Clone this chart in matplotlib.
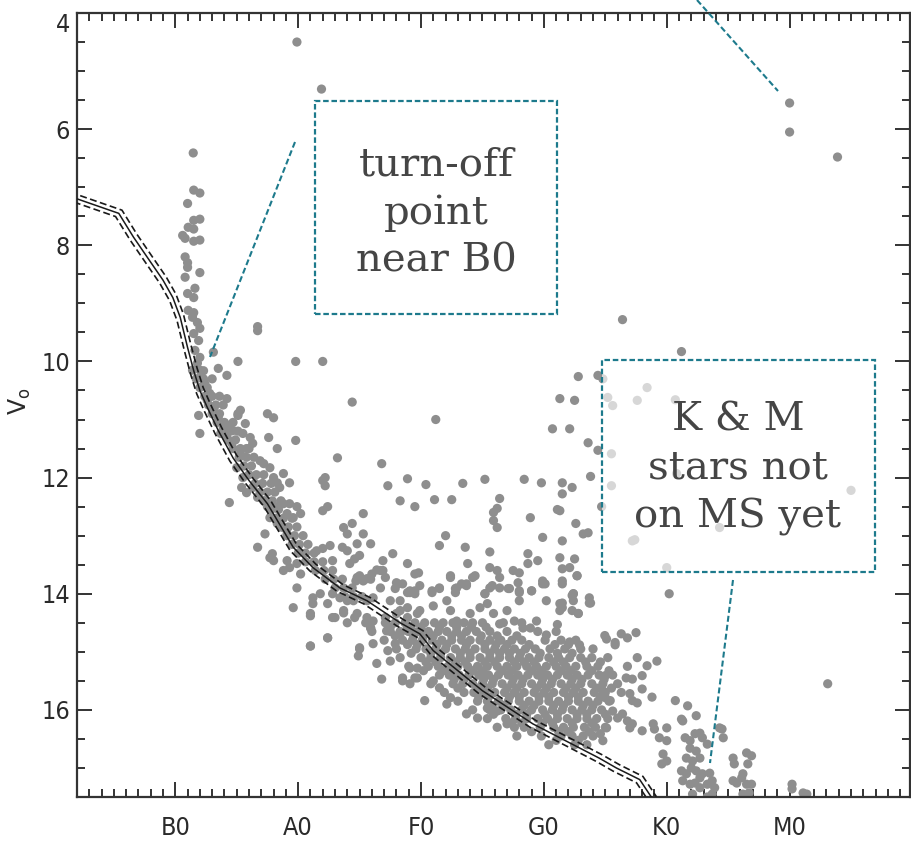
import matplotlib
matplotlib.use("Agg")
import matplotlib.pyplot as plt
from matplotlib import font_manager
from matplotlib.font_manager import FontProperties
from matplotlib.ticker import MultipleLocator, FixedLocator, FixedFormatter
import matplotlib.transforms as mtransforms
from matplotlib.patches import Rectangle
from matplotlib.lines import Line2D

# ---------------- data (spectral index: O0=0, B0=10, A0=20, F0=30, G0=40, K0=50, M0=60) -------------
tick_pos = [10, 20, 30, 40, 50, 60]
tick_labels = ["B0", "A0", "F0", "G0", "K0", "M0"]
v_ticks = [4, 6, 8, 10, 12, 14, 16]

# main-sequence (ZAMS) curve
ms_spt = [2.0, 5.4, 6.6, 7.7, 9.0, 9.8, 10.4, 11.0, 11.5, 12.0, 12.6, 13.5, 14.7, 16.0, 17.5, 19.6,
          21.2, 23.4, 25.6, 28.3, 29.9, 31.0, 35.0, 39.1, 44.5, 45.9, 47.8, 48.9]
ms_v = [7.2, 7.45, 7.86, 8.2, 8.6, 8.9, 9.24, 9.76, 10.16, 10.5, 10.79, 11.19, 11.66, 12.05, 12.45, 13.2,
        13.55, 13.9, 14.12, 14.5, 14.69, 14.98, 15.67, 16.24, 16.83, 17.0, 17.2, 17.55]

# isolated bright / outlying stars
out_spt = [19.9, 21.9, 60.0, 60.0, 63.9, 11.46, 16.7, 16.7, 19.8, 22.0, 15.1, 24.4, 31.2, 23.2, 26.8,
           65.0, 63.1, 46.4, 51.2]
out_v = [4.5, 5.31, 5.55, 6.05, 6.48, 6.41, 9.47, 9.40, 10.0, 10.0, 10.0, 10.7, 11.0, 11.66, 11.76,
         12.22, 15.55, 9.28, 9.83]

# upper main sequence / turn-off column
top_spt = [11.5, 12.0, 11.0, 11.5, 12.0, 11.05, 11.5, 10.6, 10.8, 11.5, 12.0, 10.8, 11.0, 11.0, 10.8,
           12.0, 11.0, 11.5, 11.6, 11.05, 11.5, 11.4, 11.8, 12.0, 11.5, 11.9, 11.6, 12.0, 11.8, 12.3,
           12.0, 13.1, 13.5, 14.2, 12.4, 12.8, 12.6, 13.1, 13.5, 14.2, 15.3, 15.1, 15.7, 17.5, 18.0,
           11.9, 13.9, 14.4, 12.0, 15.1]
top_v = [7.05, 7.1, 7.28, 7.57, 7.55, 7.69, 7.72, 7.83, 7.88, 7.93, 7.91, 8.2, 8.3, 8.38, 8.55,
         8.47, 8.83, 8.9, 8.74, 9.12, 9.16, 9.24, 9.33, 9.43, 9.52, 9.64, 9.81, 9.93, 10.03, 10.16,
         10.28, 9.84, 10.12, 10.24, 10.38, 10.55, 10.67, 10.84, 10.97, 10.64, 10.84, 10.93, 11.07, 10.9, 10.97,
         10.93, 11.14, 11.1, 11.24, 10.9]

# B-A band just above the ZAMS
band_spt = [11.4, 12.0, 11.7, 12.3, 13.0, 12.0, 12.6, 12.4, 13.0, 13.6, 12.7, 13.3, 13.9, 13.0, 13.6,
            13.4, 14.0, 14.7, 13.9, 14.5, 15.1, 14.3, 14.9, 14.7, 15.3, 16.0, 15.2, 15.8, 16.4,
            15.6, 16.2, 16.0, 16.6, 17.2, 16.5, 17.1, 17.8, 16.9, 17.5, 18.1, 17.3, 17.9, 18.6,
            17.8, 18.4, 18.2, 18.8, 19.5, 18.6, 19.2, 19.9, 19.1, 19.7, 20.4, 19.5, 20.1, 20.8,
            20.0, 20.6, 21.3, 20.6, 21.3, 22.0, 21.4, 22.1, 22.8, 22.2, 22.9, 23.6, 23.0, 23.7, 24.4,
            23.8, 24.5, 25.2]
band_v = [10.15, 10.15, 10.3, 10.3, 10.3, 10.45, 10.45, 10.6, 10.6, 10.6, 10.75, 10.75, 10.75, 10.9, 10.9,
          11.05, 11.05, 11.05, 11.2, 11.2, 11.2, 11.35, 11.35, 11.5, 11.5, 11.5, 11.65, 11.65, 11.65,
          11.8, 11.8, 11.95, 11.95, 11.95, 12.1, 12.1, 12.1, 12.25, 12.25, 12.25, 12.4, 12.4, 12.4,
          12.55, 12.55, 12.7, 12.7, 12.7, 12.85, 12.85, 12.85, 13.0, 13.0, 13.0, 13.15, 13.15, 13.15,
          13.3, 13.3, 13.3, 13.45, 13.45, 13.45, 13.6, 13.6, 13.6, 13.75, 13.75, 13.75, 13.9, 13.9, 13.9,
          14.05, 14.05, 14.05]

# B-A-F stars scattered around the band
af_spt = [13.9, 14.7, 15.5, 16.1, 16.3, 15.8, 14.2, 14.6, 15.3, 16.9, 17.2, 17.7, 18.0, 18.3, 18.5, 18.8,
          19.3, 17.6, 18.3, 19.8, 13.7, 15.0, 15.5, 15.4, 15.8, 14.4, 16.3, 16.7, 17.2, 17.5, 17.9, 18.3,
          18.8, 19.3, 19.9, 20.2, 19.1, 19.6, 18.8, 19.1, 18.3, 17.7, 17.3, 16.7, 17.7, 18.0, 17.9, 19.1,
          19.3, 18.8, 19.9, 20.2, 19.9, 19.6, 21.0, 21.2, 22.0, 22.2, 22.4, 22.0, 23.7, 24.4, 24.0, 25.3,
          25.3, 21.5, 22.0, 22.6, 23.6, 24.0, 24.8, 25.0, 24.6, 24.2, 22.8, 25.9, 28.9, 27.3, 28.3, 29.5,
          27.7, 28.9, 26.9, 26.0, 25.0, 24.8, 25.6, 26.7, 27.1, 28.0, 28.5, 29.1, 29.5, 28.3, 27.5, 26.7,
          26.1, 25.6, 24.5, 23.7, 22.8, 22.4, 21.2, 21.8, 22.4, 21.0, 22.8, 23.4, 24.0, 24.8, 25.6, 26.1,
          25.9, 27.1, 28.0, 28.9, 29.7, 29.3, 27.2, 26.1, 25.0]
af_v = [11.07, 11.19, 11.24, 11.31, 11.41, 11.5, 11.31, 11.41, 11.59, 11.71, 11.76, 11.83, 12.0, 12.09, 12.17, 11.93,
        12.09, 11.31, 11.5, 11.36, 11.24, 11.83, 12.0, 12.17, 12.26, 12.43, 12.17, 12.34, 12.4, 12.5, 12.5, 12.5,
        12.45, 12.45, 12.5, 12.62, 12.62, 12.69, 12.86, 12.97, 12.79, 12.69, 12.97, 13.2, 13.38, 13.43, 13.31, 13.43,
        13.55, 13.6, 13.48, 13.66, 13.9, 14.24, 14.34, 14.17, 12.05, 12.14, 12.5, 12.57, 12.86, 12.79, 12.97, 12.62,
        12.97, 13.26, 13.22, 13.17, 13.2, 13.26, 13.14, 13.34, 13.4, 13.48, 13.43, 13.14, 12.02, 12.14, 12.4, 12.5,
        13.31, 13.48, 13.43, 13.66, 13.69, 13.72, 13.74, 13.6, 13.72, 13.81, 13.83, 13.98, 13.95, 14.12, 14.12, 13.9,
        14.07, 14.12, 14.12, 14.29, 14.41, 14.17, 14.07, 14.0, 14.76, 14.9, 14.0, 14.07, 14.12, 14.34, 14.41, 14.47,
        14.59, 14.41, 14.34, 14.24, 14.34, 14.64, 14.64, 14.86, 14.93]

# F-G-K stars above the band (pre-main-sequence region)
fg_spt = [42.8, 44.4, 41.3, 42.5, 40.7, 42.1, 43.6, 44.4, 22.2, 30.4, 33.4, 35.2, 38.4, 39.8, 41.5, 42.3,
          43.8, 41.5, 31.1, 32.5, 36.4, 36.2, 35.9, 35.9, 36.2, 38.9, 41.1, 42.6, 43.2, 43.6, 39.9, 41.5,
          32.0, 31.5, 33.6, 35.6, 38.7, 38.7, 39.5, 41.3, 42.5, 42.1, 41.5, 42.7, 41.5, 39.9, 40.1, 37.5,
          38.0, 37.9, 35.6, 36.2, 36.4, 35.8, 36.4, 34.2, 33.7, 32.9, 32.8, 32.4, 31.5, 30.9, 29.8, 26.9,
          26.4, 25.9, 25.3, 24.7, 28.1, 27.9, 29.1, 29.5, 35.2, 37.1, 38.0, 39.0, 42.4, 43.7,
          44.8, 45.2, 45.6, 47.6, 48.4, 50.7, 45.5, 45.5, 44.7, 50.8, 47.4, 50.0, 50.2, 54.3, 41.3, 42.3,
          42.4, 43.8, 41.3, 41.5, 42.8, 47.2]
fg_v = [10.26, 10.24, 10.64, 10.67, 11.16, 11.16, 11.4, 11.53, 12.0, 12.12, 12.1, 12.03, 12.03, 12.09, 12.09, 12.17,
        11.98, 12.28, 12.38, 12.38, 12.36, 12.53, 12.6, 12.74, 12.86, 12.69, 12.55, 12.79, 12.97, 12.95, 13.03, 13.09,
        13.0, 13.17, 13.2, 13.28, 13.31, 13.48, 13.43, 13.38, 13.4, 13.55, 13.57, 13.69, 13.78, 13.78, 13.83, 13.6,
        13.64, 13.81, 13.55, 13.6, 13.72, 13.86, 13.9, 13.72, 13.86, 13.9, 13.98, 13.72, 13.9, 13.98, 13.64, 13.6,
        13.59, 13.75, 13.78, 13.78, 13.83, 13.91, 13.95, 14.0, 14.0, 13.91, 13.95, 13.95, 14.0, 14.07,
        10.3, 10.62, 10.76, 10.67, 10.45, 10.66, 11.59, 12.14, 12.5, 11.93, 13.07, 13.55, 14.0, 12.86, 12.57, 14.03,
        14.12, 14.16, 14.17, 14.24, 14.34, 13.09]

# upper edge of the F-G cloud
edge_spt = [33.8, 32.4, 34.4, 29.5, 30.9, 31.5, 29.9, 28.9, 32.8, 33.3, 33.7, 35.2, 35.6, 37.2, 38.0, 39.0,
            39.9, 41.5, 42.4, 42.7, 40.2, 41.5, 43.7, 42.3, 42.8, 41.3, 38.0, 28.3, 28.9, 29.9, 31.0, 32.1,
            32.4, 32.9, 34.0, 34.8, 35.4, 35.9, 36.4, 37.0, 37.6, 38.3, 38.9, 39.4, 40.2, 41.1, 42.1, 42.9,
            44.0, 45.1, 45.8, 21.0, 21.0, 22.4, 23.0, 23.7, 24.6, 25.0, 24.9, 25.9, 26.4, 26.8, 27.3, 27.5,
            27.9, 28.3, 28.9, 28.5, 29.1, 29.5, 29.7, 30.3, 28.5, 29.1, 29.7, 31.0, 31.5, 32.4, 32.1, 33.7,
            34.6, 35.4, 36.2, 37.0]
edge_v = [13.48, 13.69, 13.69, 13.66, 13.95, 13.91, 13.86, 13.98, 13.91, 13.83, 13.83, 14.0, 13.9, 13.91, 13.98, 13.95,
          13.83, 13.83, 14.0, 13.69, 14.12, 14.16, 14.16, 14.29, 14.34, 14.29, 14.12, 14.29, 14.41, 14.29, 14.21, 14.12,
          14.29, 14.47, 14.34, 14.24, 14.17, 14.34, 14.52, 14.29, 14.47, 14.59, 14.59, 14.47, 14.71, 14.53, 14.83, 14.88,
          14.95, 14.78, 14.88, 14.38, 14.9, 14.76, 14.41, 14.33, 14.41, 14.95, 15.07, 14.59, 15.2, 15.47, 14.98, 15.16,
          14.86, 14.69, 14.64, 15.5, 15.55, 15.45, 15.28, 15.84, 15.45, 15.28, 15.45, 15.5, 15.62, 15.79, 15.9, 16.07,
          16.14, 15.97, 16.02, 16.24]

# dense F-G cloud, one row of spectral indices per V row
cloud_rows_v = [14.5, 14.575, 14.65, 14.725, 14.8, 14.875, 14.95, 15.025, 15.1, 15.175, 15.25, 15.325,
                15.4, 15.475, 15.55, 15.625, 15.7, 15.775, 15.85, 15.925, 16.0, 16.075, 16.15, 16.225,
                16.3, 16.375, 16.45, 16.525, 16.6]
cloud_rows_spt = [
    [24.0, 25.5, 27.1, 27.9, 28.7, 29.5, 30.3, 31.1, 31.8, 32.6, 33.5, 34.2, 35.0, 36.7, 38.2],
    [27.5, 28.9, 30.0, 31.5, 32.9, 34.1, 35.3],
    [26.0, 27.5, 28.3, 29.0, 29.8, 30.6, 31.4, 32.1, 32.9, 33.7, 34.5, 35.6, 37.0, 39.5, 41.0],
    [27.9, 29.4, 30.2, 31.0, 32.5, 33.3, 34.9, 36.2, 37.8],
    [27.0, 28.5, 29.3, 30.1, 30.9, 31.7, 32.5, 33.3, 34.0, 34.8, 35.6, 36.5, 37.4, 38.2, 40.1, 41.4, 42.6],
    [28.9, 29.7, 31.3, 32.1, 33.7, 35.2, 36.1, 37.0, 38.8, 40.9, 42.0],
    [28.0, 29.6, 30.4, 31.2, 32.0, 32.8, 33.6, 34.4, 35.2, 36.0, 36.8, 37.6, 38.5, 39.3, 40.5, 41.7, 43.0],
    [29.2, 30.8, 31.6, 33.2, 34.0, 35.6, 36.4, 37.2, 38.1, 39.7, 41.1, 42.3],
    [28.3, 30.0, 30.8, 31.6, 32.4, 33.2, 34.0, 34.8, 35.6, 36.4, 37.2, 38.0, 38.8, 39.6, 40.4, 41.2, 42.1, 43.0, 43.9, 45.2],
    [30.4, 31.2, 32.8, 33.6, 35.2, 36.0, 37.6, 38.4, 39.2, 40.8, 41.6, 43.4, 44.6],
    [29.0, 30.6, 31.4, 32.2, 33.0, 33.8, 34.6, 35.4, 36.2, 37.0, 37.8, 38.6, 39.4, 40.2, 41.0, 41.8, 42.6, 43.5, 44.4, 46.8],
    [30.2, 31.8, 32.6, 34.2, 35.0, 36.6, 37.4, 39.0, 39.8, 41.4, 42.2, 43.9, 45.3],
    [31.5, 32.3, 33.1, 33.9, 34.7, 35.5, 36.3, 37.1, 37.9, 38.7, 39.5, 40.3, 41.1, 41.9, 42.7, 43.6, 44.5, 45.6],
    [32.7, 33.5, 35.1, 35.9, 37.5, 38.3, 39.9, 40.7, 42.3, 43.1, 44.9],
    [30.8, 32.6, 33.4, 34.2, 35.0, 35.8, 36.6, 37.4, 38.2, 39.0, 39.8, 40.6, 41.4, 42.2, 43.0, 43.9, 44.8, 46.0],
    [33.0, 34.6, 35.4, 37.0, 37.8, 39.4, 40.2, 41.8, 42.6, 44.3, 45.5],
    [31.9, 33.5, 34.3, 35.1, 36.0, 36.8, 37.6, 38.4, 39.2, 40.0, 40.8, 41.6, 42.4, 43.2, 44.1, 45.0, 46.3],
    [34.7, 35.5, 37.2, 38.0, 39.6, 40.4, 42.0, 42.8, 44.6],
    [33.0, 34.6, 35.4, 36.3, 37.1, 38.0, 38.8, 39.6, 40.4, 41.2, 42.0, 42.8, 43.6, 44.4, 45.3],
    [35.8, 36.7, 38.4, 39.2, 40.8, 41.6, 43.2, 44.0],
    [34.2, 35.6, 36.5, 37.3, 38.2, 39.0, 39.9, 40.7, 41.5, 42.3, 43.1, 43.9, 44.7],
    [35.9, 37.7, 38.6, 40.1, 41.1, 42.7, 43.5, 45.0],
    [35.4, 36.9, 37.7, 38.6, 39.5, 40.3, 41.1, 41.9, 42.7, 43.5, 44.3, 45.2],
    [37.3, 38.2, 39.9, 40.7, 42.3, 43.9],
    [36.2, 37.6, 38.4, 39.7, 40.8, 41.6, 42.4, 43.3, 44.2, 45.0],
    [39.0, 41.2, 42.0, 43.7],
    [37.8, 39.8, 41.4, 42.3, 43.2, 44.0],
    [41.0, 42.8],
    [40.4, 42.5, 43.5],
]

# late G, K and M stars
km_spt = [44.96, 45.8, 46.3, 46.8, 47.5, 47.6, 48.4, 49.2, 45.0, 46.7, 47.2, 48.0, 48.0, 48.8, 44.8, 45.0,
          45.4, 47.2, 47.6, 47.0, 45.6, 46.0, 46.4, 46.8, 47.2, 47.0, 48.0, 48.9, 49.0, 49.4, 50.0, 50.0,
          50.7, 51.7, 52.4, 51.2, 51.3, 44.6, 44.8, 45.1, 49.7, 50.0, 49.6,
          51.5, 51.9, 52.3, 52.7, 52.9, 53.3, 51.9, 52.4, 52.7, 51.6, 52.1, 51.2, 51.6, 52.0, 52.4, 52.7,
          52.9, 51.3, 51.9, 52.3, 52.7, 53.3, 53.5, 53.7, 53.9, 52.1, 53.3, 53.7, 54.5, 54.6, 54.3,
          55.4, 55.5, 55.4, 55.7, 56.5, 56.9, 56.6, 56.2, 56.1, 56.5, 56.9, 56.7, 56.2, 60.2, 60.2, 61.1, 61.4]
km_v = [14.72, 14.84, 14.69, 14.76, 14.67, 15.1, 15.24, 15.16, 15.41, 15.45, 15.47, 15.41, 15.64, 15.78, 15.67, 15.79,
        15.84, 15.84, 15.88, 15.72, 16.02, 16.14, 16.07, 16.19, 16.24, 16.31, 16.36, 16.24, 16.33, 16.48, 16.53, 16.31,
        15.84, 15.93, 16.1, 16.16, 16.19, 16.41, 16.53, 16.31, 16.76, 16.88, 16.93,
        16.48, 16.53, 16.41, 16.4, 16.48, 16.59, 16.66, 16.71, 16.83, 16.83, 16.88, 17.05, 17.1, 17.0, 17.05, 17.17,
        17.1, 17.22, 17.28, 17.26, 17.34, 17.28, 17.09, 17.22, 17.34, 17.45, 17.5, 17.45, 16.33, 16.48, 16.31,
        16.83, 16.93, 17.22, 17.26, 16.74, 16.79, 16.93, 17.1, 17.17, 17.28, 17.28, 17.43, 17.45, 17.28, 17.36, 17.43, 17.45]

# ---------------- build star table ----------------
cloud_spt = [x for row in cloud_rows_spt for x in row]
cloud_v = [v for v, row in zip(cloud_rows_v, cloud_rows_spt) for _ in row]
groups = [(out_spt, out_v), (top_spt, top_v), (band_spt, band_v), (af_spt, af_v),
          (fg_spt, fg_v), (edge_spt, edge_v), (cloud_spt, cloud_v), (km_spt, km_v)]
for gs, gv in groups:
    assert len(gs) == len(gv), (len(gs), len(gv))

# ---------------- style ----------------
def pick_tick_font():
    for f in font_manager.fontManager.ttflist:
        if f.name == "Liberation Sans Narrow" and f.style == "normal" and f.weight in (400, "normal", "regular"):
            return FontProperties(fname=f.fname)
    for f in font_manager.fontManager.ttflist:
        if "DejaVuSansCondensed.ttf" in f.fname:
            return FontProperties(fname=f.fname)
    return FontProperties(family="Liberation Sans")

tick_fp = pick_tick_font()
axis_col = "#333333"
star_col = "#8e8e8e"
teal = "#1d7a8c"
plt.rcParams["lines.scale_dashes"] = False

W, H = 911, 841
fig = plt.figure(figsize=(W / 100, H / 100), dpi=100)
ax = fig.add_axes([77 / W, 44 / H, 833 / W, 784 / H])
ax.set_xlim(2, 69.8)
ax.set_ylim(17.5, 4)

for gs, gv in groups:
    ax.scatter(gs, gv, s=44, color=star_col, edgecolors="none", zorder=2, clip_on=True)

# ZAMS: solid core with dashed lines either side
ax.plot(ms_spt, ms_v, color="#1a1a1a", lw=1.1, zorder=4, solid_capstyle="butt")
for d in (2.3, -2.3):
    tr = ax.transData + mtransforms.ScaledTranslation(d / 72, d / 72, fig.dpi_scale_trans)
    ax.plot(ms_spt, ms_v, color="#1a1a1a", lw=1.2, dashes=(5, 2.5), transform=tr, zorder=4)

# axes styling
ax.xaxis.set_major_locator(FixedLocator(tick_pos))
ax.xaxis.set_major_formatter(FixedFormatter(tick_labels))
ax.xaxis.set_minor_locator(MultipleLocator(1))
ax.yaxis.set_major_locator(FixedLocator(v_ticks))
ax.yaxis.set_minor_locator(MultipleLocator(0.5))
ax.tick_params(which="both", direction="in", top=True, right=True, color=axis_col, width=1.4,
               labelcolor="#2a2a2a")
ax.tick_params(which="major", length=11)
ax.tick_params(which="minor", length=6)
ax.tick_params(axis="x", which="major", pad=14)
ax.tick_params(axis="y", which="major", pad=5)
for lab in ax.get_xticklabels() + ax.get_yticklabels():
    lab.set_fontproperties(tick_fp)
    lab.set_fontsize(18)
for sp in ax.spines.values():
    sp.set_color(axis_col)
    sp.set_linewidth(1.6)
ax.yaxis.get_major_ticks()[0].label1.set_verticalalignment("top")

ax.set_ylabel(r"V$_\mathregular{o}$", fontsize=17, color="#2a2a2a")
ax.yaxis.set_label_coords(-0.053, 0.505)

# ---------------- annotations ----------------
def fx(px):
    return px / W

def fy(py):
    return 1 - py / H

boxes = [
    ((315, 101, 557, 314), "turn-off\npoint\nnear B0", (436, 213)),
    ((602, 360, 875, 572), "K & M\nstars not\non MS yet", (738, 469)),
]
for (x0, y0, x1, y1), txt, (cx, cy) in boxes:
    rect = Rectangle((fx(x0), fy(y1)), fx(x1) - fx(x0), fy(y0) - fy(y1), transform=fig.transFigure,
                     facecolor=(1, 1, 1, 0.65), edgecolor=teal, lw=1.6, linestyle=(0, (4, 2)), zorder=5)
    fig.add_artist(rect)
    fig.text(fx(cx), fy(cy), txt, ha="center", va="center", multialignment="center",
             fontsize=29, family="DejaVu Serif", color="#454545", linespacing=1.38, zorder=6)

leaders = [((295, 142), (210, 357)), ((733, 580), (710, 763)), ((697, 0), (778, 91))]
for (xa, ya), (xb, yb) in leaders:
    fig.add_artist(Line2D([fx(xa), fx(xb)], [fy(ya), fy(yb)], transform=fig.transFigure,
                          color=teal, lw=1.5, dashes=(4.3, 2.2), zorder=6))

fig.savefig("out.png", dpi=100)
